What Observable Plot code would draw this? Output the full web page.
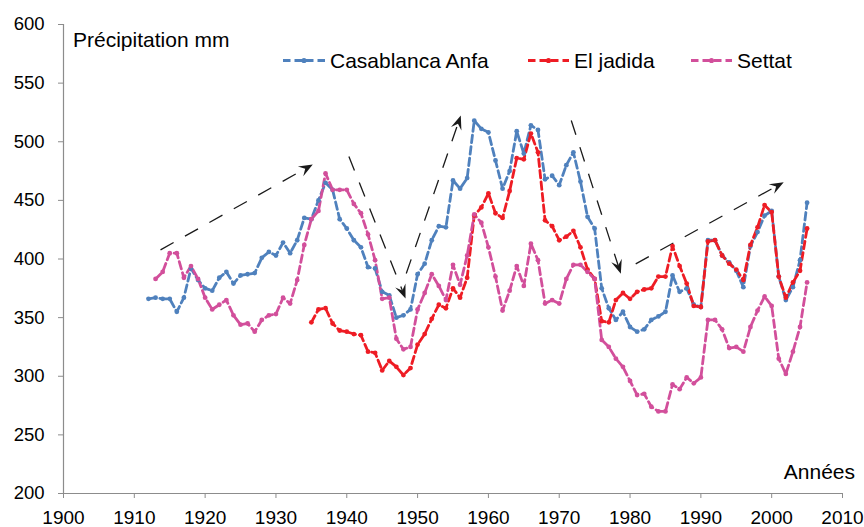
<!DOCTYPE html>
<html>
<head>
<meta charset="utf-8">
<script src="https://cdn.jsdelivr.net/npm/d3@7"></script>
<script src="https://cdn.jsdelivr.net/npm/@observablehq/plot@0.6"></script>
<style>
  html, body { margin: 0; padding: 0; background: #fff; }
  #wrap { position: relative; width: 864px; height: 527px; overflow: hidden; }
  #wrap svg { display: block; }
  #wrap svg g[aria-label^="x-axis"] text { font-family: "Liberation Sans", Arial, sans-serif; font-size: 19px; fill: #000; }
  #wrap svg g[aria-label^="y-axis"] text { font-family: "Liberation Sans", Arial, sans-serif; font-size: 18.5px; fill: #000; }
  #wrap svg g[aria-label^="x-axis"] path, #wrap svg g[aria-label^="x-axis"] line,
  #wrap svg g[aria-label^="y-axis"] path, #wrap svg g[aria-label^="y-axis"] line { stroke: #8c8c8c; }
  #overlay { position: absolute; left: 0; top: 0; pointer-events: none; }
  #overlay text { font-family: "Liberation Sans", Arial, sans-serif; fill: #000; }
</style>
</head>
<body>
<div id="wrap"></div>
<script>
// ---------- data ----------
const seriesNames  = ["Casablanca Anfa", "El jadida", "Settat"];
const seriesColors = ["#4f81bd", "#ee1c24", "#d24f9b"];

const casaYears = d3.range(1912, 2006);
const casaValues = [
  366,367,366,366,355,367,392,382,375,373,
  384,389,379,386,387,388,401,406,403,414,
  405,416,435,434,450,465,459,434,426,416,
  410,393,392,372,369,350,352,357,387,396,
  416,428,427,467,460,469,518,511,508,484,
  460,475,509,490,514,510,468,471,463,480,
  491,466,436,426,375,358,348,355,342,338,
  340,348,351,355,386,372,375,361,359,416,
  416,403,397,390,376,411,423,437,441,385,
  365,376,399,448
];

const jadidaYears = d3.range(1935, 2006);
const jadidaValues = [
  346,357,358,345,339,338,336,335,321,320,
  305,313,308,301,307,327,336,349,361,358,
  375,367,384,437,444,456,439,435,458,486,
  485,507,491,433,428,416,419,424,410,391,
  383,347,346,365,371,366,372,374,375,385,
  385,411,394,379,360,359,415,416,403,396,
  391,382,412,427,446,440,385,367,380,390,
  426
];

const settatYears = d3.range(1913, 2006);
const settatValues = [
  383,389,405,405,384,394,383,367,357,361,
  365,352,344,345,338,348,352,353,367,362,
  382,412,434,441,473,459,459,459,447,439,
  421,399,366,367,332,323,325,357,371,387,
  377,365,395,378,403,438,431,410,385,356,
  373,394,377,413,399,362,365,362,383,395,
  395,389,383,331,325,315,308,296,284,285,
  274,270,270,293,289,299,294,299,348,348,
  340,324,325,321,342,356,368,360,315,302,
  321,342,380
];

const xTicks = d3.range(1900, 2011, 10);
const yTicks = d3.range(200, 601, 50);
const xLabel = "Années";
const yLabel = "Précipitation mm";

// trend arrows (data coordinates: start year/value -> tip year/value)
const trendArrows = [
  {x1: 1913.7, y1: 407.8, x2: 1935.2, y2: 480.6},
  {x1: 1940.3, y1: 487.4, x2: 1948.3, y2: 366.3},
  {x1: 1948.4, y1: 387.6, x2: 1956.1, y2: 522.4},
  {x1: 1971.7, y1: 518.1, x2: 1978.7, y2: 387.4},
  {x1: 1980.8, y1: 395.9, x2: 2001.7, y2: 465.5}
];

// ---------- build table ----------
const allYears = [casaYears, jadidaYears, settatYears];
const allValues = [casaValues, jadidaValues, settatValues];
const rows = [];
seriesNames.forEach((name, s) => {
  allYears[s].forEach((yr, i) => rows.push({series: name, year: yr, value: allValues[s][i]}));
});

// ---------- layout ----------
const W = 864, H = 527;
const base = {
  width: W, height: H,
  marginLeft: 63, marginRight: 22, marginTop: 24, marginBottom: 34,
  x: {domain: [1900, 2010]},
  y: {domain: [200, 600]}
};

// probe pass to obtain the pixel mapping for arrowheads
const probe = Plot.plot({...base, marks: [Plot.ruleY([200])]});
const px = probe.scale("x"), py = probe.scale("y");
const sx = d3.scaleLinear().domain(px.domain).range(px.range);
const sy = d3.scaleLinear().domain(py.domain).range(py.range);

const heads = [], shafts = [];
trendArrows.forEach((a, i) => {
  const X1 = sx(a.x1), Y1 = sy(a.y1), X2 = sx(a.x2), Y2 = sy(a.y2);
  const dx = X2 - X1, dy = Y2 - Y1, len = Math.hypot(dx, dy);
  const ux = dx / len, uy = dy / len, nx = -uy, ny = ux;
  const L = 14, Wd = 5.5;
  const pts = [
    [X2, Y2],
    [X2 - L * ux + Wd * nx, Y2 - L * uy + Wd * ny],
    [X2 - 0.62 * L * ux, Y2 - 0.62 * L * uy],
    [X2 - L * ux - Wd * nx, Y2 - L * uy - Wd * ny],
    [X2, Y2]
  ];
  pts.forEach(p => heads.push({id: i, x: sx.invert(p[0]), y: sy.invert(p[1])}));
  shafts.push({x1: a.x1, y1: a.y1, x2: sx.invert(X2 - 0.6 * L * ux), y2: sy.invert(Y2 - 0.6 * L * uy)});
});

const colorScale = {domain: seriesNames, range: seriesColors};

const chart = Plot.plot({
  ...base,
  style: {background: "#fff", color: "#8c8c8c", fontFamily: "Liberation Sans, Arial, sans-serif"},
  x: {domain: [1900, 2010], ticks: xTicks, tickSize: 5, tickPadding: 12, tickFormat: d => String(d), label: null},
  y: {domain: [200, 600], ticks: yTicks, tickSize: 5, tickPadding: 14, tickFormat: d => String(d), label: null},
  color: colorScale,
  marks: [
    Plot.ruleX([1900], {stroke: "#8c8c8c", strokeWidth: 1.2}),
    Plot.ruleY([200], {stroke: "#8c8c8c", strokeWidth: 1.2}),
    Plot.link(shafts, {x1: "x1", y1: "y1", x2: "x2", y2: "y2", stroke: "#1a1a1a", strokeWidth: 1.3, strokeDasharray: "15,13"}),
    Plot.line(heads, {x: "x", y: "y", z: "id", fill: "#1a1a1a", stroke: "none"}),
    Plot.line(rows, {x: "year", y: "value", z: "series", stroke: "series", strokeWidth: 2.8, strokeDasharray: "7.5,4", strokeLinejoin: "round"}),
    Plot.dot(rows, {x: "year", y: "value", fill: "series", r: 2.4, stroke: "none"})
  ]
});

const wrap = document.getElementById("wrap");
wrap.appendChild(chart);

// ---------- overlay: axis titles and legend ----------
const ov = d3.select(wrap).append("svg")
  .attr("id", "overlay").attr("width", W).attr("height", H);

ov.append("text").attr("x", 73).attr("y", 47).attr("font-size", 21).text(yLabel);
ov.append("text").attr("x", 855).attr("y", 479).attr("text-anchor", "end").attr("font-size", 21).text(xLabel);

const legendItems = [
  {x0: 283, x1: 325, tx: 330},
  {x0: 528, x1: 569, tx: 574},
  {x0: 691, x1: 732, tx: 737}
];
seriesNames.forEach((name, i) => {
  const it = legendItems[i];
  const g = ov.append("g");
  g.append("line").attr("x1", it.x0).attr("x2", it.x1).attr("y1", 60.5).attr("y2", 60.5)
    .attr("stroke", seriesColors[i]).attr("stroke-width", 2.8).attr("stroke-dasharray", "7.5,4");
  g.append("circle").attr("cx", (it.x0 + it.x1) / 2).attr("cy", 60.5).attr("r", 2.6).attr("fill", seriesColors[i]);
  g.append("text").attr("x", it.tx).attr("y", 67.5).attr("font-size", 21).text(name);
});
</script>
</body>
</html>
